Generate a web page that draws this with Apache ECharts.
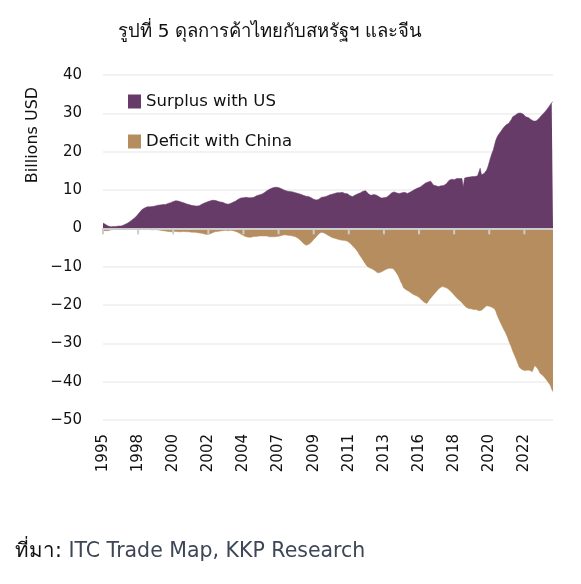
<!DOCTYPE html>
<html>
<head>
<meta charset="utf-8">
<script src="https://cdn.jsdelivr.net/npm/echarts@6/dist/echarts.min.js"></script>
<style>
html,body{margin:0;padding:0;background:#fff;}
#c{width:581px;height:584px;}
</style>
</head>
<body>
<div id="c"></div>
<script>
// Months: Dec 1995 .. Oct 2024 (12-month rolling trade balance, billions USD)
const startYear = 1995, startMonth = 12, nMonths = 347;
const categories = [];
for (let i = 0; i < nMonths; i++) {
  const m = (startMonth - 1 + i) % 12 + 1;
  const y = startYear + Math.floor((startMonth - 1 + i) / 12);
  categories.push(y + '-' + String(m).padStart(2, '0'));
}

const surplusUS = [
  1.4,
  1.2, 1.0, 0.8, 0.6, 0.5, 0.4, 0.4, 0.5, 0.4, 0.5, 0.6, 0.6,
  0.7, 0.6, 0.7, 0.9, 1.0, 1.2, 1.3, 1.6, 1.8, 2.1, 2.3, 2.6,
  3.0, 3.3, 3.6, 4.1, 4.5, 4.9, 5.1, 5.3, 5.5, 5.6, 5.7, 5.6,
  5.8, 5.7, 5.9, 5.8, 5.9, 6.0, 5.9, 6.1, 6.0, 6.2, 6.3, 6.2,
  6.4, 6.5, 6.6, 6.7, 6.8, 7.0, 7.1, 7.2, 7.2, 7.1, 7.0, 6.9,
  6.8, 6.7, 6.6, 6.4, 6.3, 6.2, 6.1, 6.0, 5.9, 5.9, 5.8, 5.8,
  5.8, 5.9, 6.1, 6.3, 6.5, 6.6, 6.8, 6.9, 7.0, 7.1, 7.2, 7.3,
  7.3, 7.3, 7.2, 7.1, 7.0, 6.9, 6.9, 6.8, 6.6, 6.5, 6.4, 6.3,
  6.3, 6.5, 6.7, 6.8, 6.9, 7.1, 7.3, 7.6, 7.8, 7.9, 8.0, 8.0,
  8.0, 8.1, 7.9, 8.0, 8.1, 8.0, 8.1, 8.1, 8.3, 8.5, 8.6, 8.7,
  8.8, 8.9, 9.1, 9.3, 9.6, 9.8, 10.1, 10.2, 10.4, 10.5, 10.6, 10.7,
  10.7, 10.7, 10.6, 10.5, 10.3, 10.2, 10.0, 9.9, 9.8, 9.7, 9.6, 9.6,
  9.5, 9.5, 9.4, 9.3, 9.3, 9.1, 9.0, 8.9, 8.7, 8.6, 8.5, 8.4,
  8.4, 8.3, 8.1, 8.0, 7.8, 7.6, 7.5, 7.4, 7.4, 7.6, 7.9, 8.1,
  8.1, 8.2, 8.3, 8.4, 8.5, 8.7, 8.8, 8.9, 9.0, 9.1, 9.2, 9.3,
  9.3, 9.3, 9.2, 9.4, 9.3, 9.1, 9.1, 9.0, 8.8, 8.5, 8.2, 8.3,
  8.5, 8.7, 8.9, 9.0, 9.2, 9.3, 9.5, 9.7, 10.0, 9.8, 9.9, 9.0,
  8.6, 8.6, 8.7, 8.8, 8.9, 8.7, 8.5, 8.3, 8.1, 7.9, 7.9, 8.0,
  8.0, 8.1, 8.3, 8.6, 8.9, 9.3, 9.6, 9.5, 9.3, 9.2, 9.1, 9.1,
  9.2, 9.3, 9.2, 9.4, 9.0, 9.1, 9.3, 9.4, 9.7, 9.8, 10.0, 10.2,
  10.3, 10.5, 10.6, 10.8, 11.0, 11.3, 11.7, 11.8, 11.9, 12.1, 12.2, 12.3,
  12.2, 11.3, 11.0, 11.1, 11.0, 10.9, 11.0, 11.1, 11.0, 11.2, 11.4, 11.6,
  11.7, 12.5, 12.8, 12.8, 12.9, 12.7, 12.8, 13.0, 12.9, 13.0, 13.1, 13.0,
  10.8, 13.1, 13.2, 13.3, 13.2, 13.4, 13.3, 13.5, 13.6, 13.5, 13.6, 13.7,
  13.8, 15.7, 14.0, 14.1, 14.3, 14.8, 15.2, 16.1, 17.3, 18.5, 19.5, 20.4,
  21.7, 23.0, 23.8, 24.4, 24.8, 25.3, 25.8, 26.3, 26.6, 27.0, 27.2, 27.4,
  27.8, 28.4, 29.1, 29.3, 29.5, 29.8, 30.0, 30.3, 30.1, 30.0, 29.8, 29.5,
  29.1, 29.0, 28.9, 28.6, 28.4, 28.1, 28.0, 27.8, 28.0, 28.3, 28.6, 28.9,
  29.4, 29.8, 30.1, 30.5, 30.9, 31.3, 31.8, 32.3, 32.8, 33.0
];

const deficitChina = [
  -0.6,
  -0.6, -0.6, -0.5, -0.6, -0.5, -0.4, -0.3, -0.3, -0.2, -0.2, -0.2, -0.3,
  -0.2, -0.2, -0.3, -0.2, -0.2, -0.1, -0.1, -0.2, -0.2, -0.1, -0.2, -0.2,
  -0.1, -0.1, -0.2, -0.1, -0.1, -0.2, -0.2, -0.3, -0.3, -0.2, -0.3, -0.3,
  -0.3, -0.4, -0.4, -0.3, -0.4, -0.4, -0.5, -0.5, -0.6, -0.6, -0.7, -0.7,
  -0.8, -0.8, -0.9, -0.9, -0.9, -0.8, -0.9, -0.8, -0.9, -0.9, -0.8, -0.9,
  -0.9, -0.8, -0.9, -0.9, -1.0, -0.9, -1.0, -1.0, -1.1, -1.0, -1.1, -1.1,
  -1.2, -1.2, -1.3, -1.3, -1.4, -1.5, -1.5, -1.6, -1.6, -1.5, -1.4, -1.2,
  -1.0, -0.9, -0.8, -0.8, -0.7, -0.7, -0.6, -0.6, -0.5, -0.5, -0.5, -0.6,
  -0.5, -0.5, -0.6, -0.6, -0.7, -0.8, -0.9, -1.1, -1.3, -1.5, -1.7, -1.9,
  -2.0, -2.2, -2.3, -2.3, -2.2, -2.3, -2.2, -2.1, -2.2, -2.1, -2.2, -2.0,
  -2.0, -2.0, -2.1, -2.0, -2.1, -2.0, -2.1, -2.2, -2.1, -2.2, -2.1, -2.2,
  -2.2, -2.1, -2.0, -2.0, -1.9, -1.8, -1.8, -1.7, -1.7, -1.8, -1.7, -1.9,
  -1.9, -2.0, -2.1, -2.2, -2.4, -2.6, -2.9, -3.2, -3.5, -3.9, -4.2, -4.4,
  -4.4, -4.2, -4.0, -3.7, -3.3, -2.9, -2.5, -2.2, -1.8, -1.4, -1.1, -1.0,
  -1.0, -1.2, -1.4, -1.6, -1.8, -2.0, -2.2, -2.4, -2.5, -2.6, -2.7, -2.8,
  -2.9, -3.0, -3.0, -3.1, -3.1, -3.2, -3.3, -3.4, -3.6, -3.9, -4.2, -4.6,
  -4.9, -5.3, -5.7, -6.2, -6.8, -7.3, -7.8, -8.3, -8.9, -9.4, -9.9, -10.2,
  -10.3, -10.5, -10.6, -10.7, -11.0, -11.3, -11.6, -11.7, -11.5, -11.5, -11.2, -11.0,
  -10.8, -10.6, -10.5, -10.4, -10.4, -10.6, -10.5, -10.8, -11.3, -11.8, -12.4, -12.9,
  -14.0, -14.6, -15.5, -15.8, -16.0, -16.2, -16.4, -16.6, -16.9, -17.2, -17.3, -17.5,
  -17.6, -17.8, -18.0, -18.4, -18.7, -19.0, -19.3, -19.5, -19.6, -19.3, -18.6, -18.2,
  -17.8, -17.4, -17.0, -16.6, -16.2, -15.8, -15.5, -15.2, -15.2, -15.3, -15.4, -15.5,
  -15.7, -16.0, -16.3, -16.6, -17.0, -17.4, -17.8, -18.2, -18.5, -18.7, -19.0, -19.4,
  -19.8, -20.3, -20.5, -20.7, -20.9, -21.0, -21.0, -21.1, -21.2, -21.3, -21.2, -21.4,
  -21.5, -21.5, -21.4, -21.0, -20.8, -20.5, -20.2, -20.1, -20.3, -20.5, -20.6, -20.9,
  -21.0, -21.6, -22.6, -23.4, -24.2, -24.9, -25.6, -26.3, -26.9, -27.6, -28.4, -29.4,
  -30.2, -31.0, -32.0, -32.8, -33.6, -34.4, -35.3, -36.2, -36.6, -36.8, -37.0, -37.1,
  -37.2, -37.0, -37.1, -37.0, -36.8, -37.4, -36.6, -35.8, -36.2, -36.5, -37.1, -37.8,
  -38.0, -38.3, -38.6, -39.1, -39.6, -40.0, -40.4, -41.0, -42.0, -42.6
];

const seriesNames = ['Surplus with US', 'Deficit with China'];
const titleText = 'รูปที่ 5 ดุลการค้าไทยกับสหรัฐฯ และจีน';
const yAxisTitle = 'Billions USD';
const sourceLabel = 'ที่มา:';
const sourceText = ' ITC Trade Map, KKP Research';
const yMin = -50, yMax = 40, yStep = 10;
const labelEvery = 27; // months between x-axis labels / ticks

// x tick positions (category indices) and their year labels
const tickIdx = [];
for (let i = 0; i < nMonths; i += labelEvery) tickIdx.push(i);
const tickLabels = tickIdx.map(i => categories[i].slice(0, 4));

const FONT = '"DejaVu Sans", "Noto Sans", sans-serif';
const PURPLE = '#663b68';
const BROWN = '#b68d5e';
const AXISGREY = '#cccccc';

const baseGraphics = [
  {
    type: 'text', x: 33, y: 135, rotation: Math.PI / 2,
    style: {text: yAxisTitle, font: '16px ' + FONT, fill: '#111', textAlign: 'center', textVerticalAlign: 'middle'}
  },
  {
    type: 'text', left: 15, top: 541,
    style: {
      text: '{a|' + sourceLabel + '}{b|' + sourceText + '}',
      rich: {
        a: {font: '20.5px ' + FONT, fill: '#111'},
        b: {font: '20.5px ' + FONT, fill: '#3d4656'}
      }
    }
  }
];

const chart = echarts.init(document.getElementById('c'), null, {renderer: 'canvas'});
chart.setOption({
  animation: false,
  backgroundColor: '#fff',
  textStyle: {fontFamily: FONT},
  title: {
    text: titleText,
    left: 265, top: 18, textAlign: 'center',
    textStyle: {fontSize: 18.5, fontWeight: 'normal', color: '#111', fontFamily: FONT}
  },
  legend: {
    orient: 'vertical', left: 123, top: 88,
    itemWidth: 13, itemHeight: 14, itemGap: 23,
    icon: 'rect',
    textStyle: {fontSize: 16.5, color: '#111', fontFamily: FONT},
    data: seriesNames
  },
  grid: {left: 103, right: 28, top: 75, bottom: 164, containLabel: false},
  xAxis: {
    type: 'category', data: categories, boundaryGap: false,
    axisLine: {show: false, onZero: false},
    axisTick: {show: false},
    splitLine: {show: false},
    axisLabel: {show: false}
  },
  yAxis: {
    type: 'value', min: yMin, max: yMax, interval: yStep,
    axisLine: {show: false}, axisTick: {show: false},
    splitLine: {lineStyle: {color: '#f2f2f2', width: 2}},
    axisLabel: {
      fontSize: 15, color: '#111', margin: 21, fontFamily: FONT,
      formatter: v => String(v).replace('-', '\u2212')
    }
  },
  graphic: baseGraphics,
  series: [
    {
      name: seriesNames[0], type: 'line', data: surplusUS,
      showSymbol: false, symbol: 'none',
      lineStyle: {width: 0.5, color: PURPLE},
      itemStyle: {color: PURPLE},
      areaStyle: {color: PURPLE, opacity: 1}
    },
    {
      name: seriesNames[1], type: 'line', data: deficitChina,
      showSymbol: false, symbol: 'none',
      lineStyle: {width: 0.5, color: BROWN},
      itemStyle: {color: BROWN},
      areaStyle: {color: BROWN, opacity: 1}
    },
    {
      // zero baseline with downward ticks, drawn above the areas
      name: 'zero axis', type: 'custom', data: tickIdx.map(i => [i, 0]), z: 5, silent: true,
      renderItem: (params, api) => {
        const p = api.coord([api.value(0), 0]);
        return {
          type: 'line',
          shape: {x1: p[0], y1: p[1], x2: p[0], y2: p[1] + 6},
          style: {stroke: AXISGREY, lineWidth: 2}
        };
      },
      markLine: {
        silent: true, symbol: 'none', label: {show: false},
        lineStyle: {color: AXISGREY, width: 2, type: 'solid'},
        data: [{yAxis: 0}]
      }
    }
  ]
});

// Rotated year labels under the plot, placed through the chart's own axis scale
const yearGraphics = tickIdx.map((idx, k) => {
  const p = chart.convertToPixel({xAxisIndex: 0, yAxisIndex: 0}, [idx, yMin]);
  return {
    type: 'text', x: p[0], y: p[1] + 14, rotation: Math.PI / 2,
    style: {text: tickLabels[k], font: '15px ' + FONT, fill: '#111', textAlign: 'right', textVerticalAlign: 'middle'}
  };
});
chart.setOption({graphic: baseGraphics.concat(yearGraphics)});
</script>
</body>
</html>
